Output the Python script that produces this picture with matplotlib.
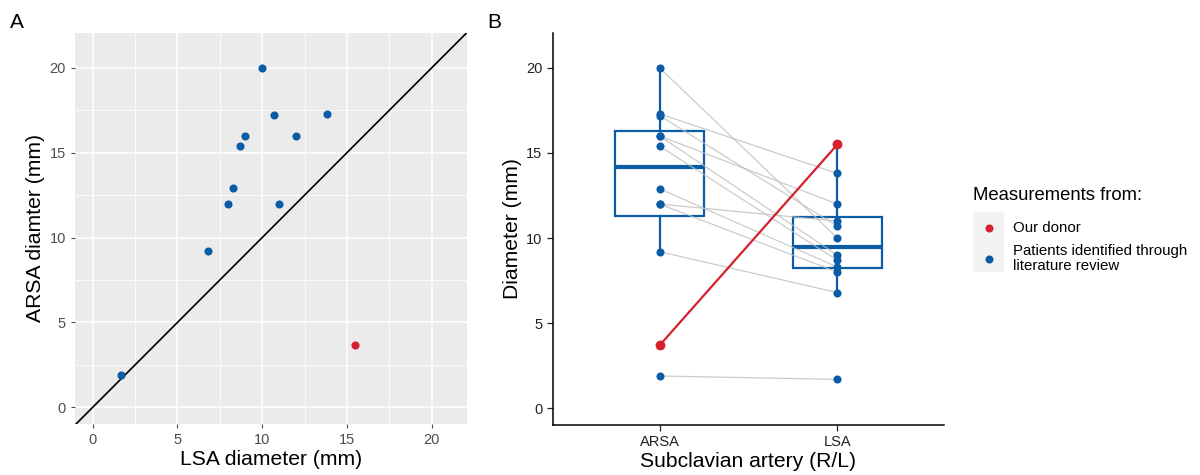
import matplotlib.pyplot as plt
from matplotlib.patches import Rectangle
from matplotlib.lines import Line2D
import numpy as np

plt.rcParams['font.family'] = ['Liberation Sans', 'DejaVu Sans']

# Data: LSA and ARSA diameters (mm)
lsa_lit = [1.7, 6.8, 8.0, 8.3, 8.7, 9.0, 10.0, 10.7, 11.0, 12.0, 13.8]
arsa_lit = [1.9, 9.2, 12.0, 12.9, 15.4, 16.0, 20.0, 17.2, 12.0, 16.0, 17.3]
lsa_donor = 15.5
arsa_donor = 3.7
groups = ['ARSA', 'LSA']
legend_labels = ['Our donor', 'Patients identified through\nliterature review']

blue = '#0A5CA6'
red = '#D7202F'

W, H = 1200, 475
fig = plt.figure(figsize=(W / 100, H / 100), dpi=100)


def box(x0, y0, x1, y1):
    # pixel box (top-left origin) -> figure fraction
    return [x0 / W, 1 - y1 / H, (x1 - x0) / W, (y1 - y0) / H]


# ---- Panel A ----
axA = fig.add_axes(box(75, 33, 467, 424))
axA.set_facecolor('#EBEBEB')
axA.set_xlim(-1.04, 22.08)
axA.set_ylim(-0.98, 22.05)
ticks = [0, 5, 10, 15, 20]
axA.set_xticks(ticks)
axA.set_yticks(ticks)
axA.set_xticks(np.arange(2.5, 22, 5), minor=True)
axA.set_yticks(np.arange(2.5, 22, 5), minor=True)
axA.grid(True, which='major', color='white', lw=1.1)
axA.grid(True, which='minor', color='white', lw=0.55)
axA.set_axisbelow(True)
for s in axA.spines.values():
    s.set_visible(False)
axA.tick_params(which='major', colors='#4D4D4D', labelsize=10.5, length=3, width=0.8)
axA.tick_params(which='minor', length=0)
axA.axline((0, 0), slope=1, color='black', lw=1.2, zorder=2)
axA.scatter(lsa_lit, arsa_lit, s=34, color=blue, zorder=3, linewidths=0)
axA.scatter([lsa_donor], [arsa_donor], s=34, color=red, zorder=3, linewidths=0)
axA.set_xlabel('LSA diameter (mm)', fontsize=15.2, labelpad=2)
axA.set_ylabel('ARSA diamter (mm)', fontsize=15.2, labelpad=3)

# ---- Panel B ----
axB = fig.add_axes(box(553, 33, 944, 425))
arsa_all = arsa_lit + [arsa_donor]
lsa_all = lsa_lit + [lsa_donor]
bp = axB.boxplot([arsa_all, lsa_all], positions=[1, 2], widths=0.5, whis=1.5,
                 showfliers=False, showcaps=False, patch_artist=True,
                 boxprops=dict(facecolor='white', edgecolor=blue, lw=1.6),
                 medianprops=dict(color=blue, lw=3),
                 whiskerprops=dict(color=blue, lw=1.6), zorder=1)

for a, l in zip(arsa_lit, lsa_lit):
    axB.plot([1, 2], [a, l], color='#BFBFBF', lw=0.9, alpha=0.8, zorder=2)
axB.plot([1, 2], [arsa_donor, lsa_donor], color=red, lw=1.6, zorder=3)
axB.scatter([1] * len(arsa_lit), arsa_lit, s=34, color=blue, zorder=4, linewidths=0)
axB.scatter([2] * len(lsa_lit), lsa_lit, s=34, color=blue, zorder=4, linewidths=0)
axB.scatter([1, 2], [arsa_donor, lsa_donor], s=50, color=red, zorder=5, linewidths=0)

axB.set_xlim(0.4, 2.6)
axB.set_ylim(-0.98, 22.05)
axB.set_yticks(ticks)
axB.set_xticks([1, 2])
axB.set_xticklabels(groups)
for s in ['top', 'right']:
    axB.spines[s].set_visible(False)
for s in ['left', 'bottom']:
    axB.spines[s].set_linewidth(1.1)
axB.tick_params(colors='#222222', labelsize=10.5, length=4, width=0.9)
axB.set_xlabel('Subclavian artery (R/L)', fontsize=15.2, labelpad=2)
axB.set_ylabel('Diameter (mm)', fontsize=15.2, labelpad=3)

# ---- Panel letters ----
fig.text(10 / W, 1 - 23 / H, 'A', fontsize=15, va='center', ha='left')
fig.text(487 / W, 1 - 23 / H, 'B', fontsize=15, va='center', ha='left')

# ---- Legend ----
fig.text(973 / W, 1 - 195 / H, 'Measurements from:', fontsize=13.3, va='center', ha='left')
fig.add_artist(Rectangle((973 / W, 1 - 272 / H), 31 / W, 60 / H,
                         transform=fig.transFigure, facecolor='#F2F2F2', edgecolor='none'))
for col, lab, yc in zip([red, blue], legend_labels, [228, 258.5]):
    fig.add_artist(Line2D([988.5 / W], [1 - yc / H], marker='o', markersize=5.8,
                          color=col, markeredgewidth=0, transform=fig.transFigure))
    fig.text(1013 / W, 1 - yc / H, lab, fontsize=10.8, va='center', ha='left',
             linespacing=1.05)

fig.savefig('out.png', dpi=100)
